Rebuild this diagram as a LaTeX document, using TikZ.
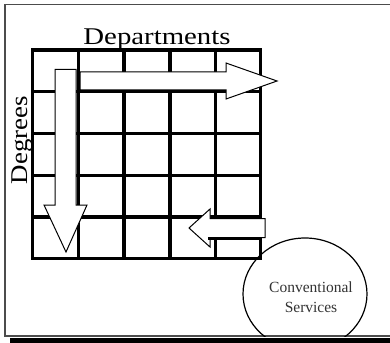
\documentclass[tikz,border=0pt]{standalone}
\usepackage{fontspec}
\setmainfont{Liberation Serif}
\usepackage{graphicx}
\begin{document}
\begin{tikzpicture}[x=1pt,y=-1pt,
  gridline/.style={line width=3.5pt,line cap=rect},
  blockarrow/.style={draw=black,fill=white,line width=1pt,line join=miter},
  framestyle/.style={draw=black!70,line width=1.5pt},
  heading/.style={inner sep=0pt,anchor=base,font=\fontsize{24}{24}\selectfont},
  smalltext/.style={inner sep=0pt,align=center,text=black!80,font=\fontsize{15.5}{20}\selectfont}]
\useasboundingbox (0,0) rectangle (390,342);
\fill[white] (0,0) rectangle (390,342);

% outer frame, open on the right, with a black shadow underneath
\fill[black] (10,337.5) rectangle (392,343);
\draw[framestyle] (400,4.5) -- (5,4.5) -- (5,336) -- (400,336);

% the 5x5 grid
\foreach \x in {32.5,78.3,124,170,215.5,260.5}
  \draw[gridline] (\x,50) -- (\x,258.3);
\foreach \y in {50,91.7,133.3,175.5,216.8,258.3}
  \draw[gridline] (32.5,\y) -- (260.5,\y);

% block arrows over the grid
\draw[blockarrow] (55,69.5) -- (76,69.5) -- (76,205) -- (87,205) -- (66,252)
  -- (44,205) -- (55,205) -- cycle;
\draw[blockarrow] (80,72) -- (226,72) -- (226,63) -- (277,81) -- (226,99)
  -- (226,90) -- (80,90) -- cycle;
\draw[blockarrow] (265,218.5) -- (210,218.5) -- (210,209) -- (189,228)
  -- (210,247) -- (210,237.5) -- (265,237.5) -- cycle;
\draw[line width=2.5pt] (208,238.3) -- (262,238.3);

% axis labels
\node[heading] (dept) at (157,45) {\scalebox{1.2}[1]{Departments}};
\node[heading,rotate=90] (deg) at (27.5,140) {\scalebox{1.12}[1]{Degrees}};

% conventional services bubble, cut off by the frame's bottom edge
\begin{scope}
  \clip (0,0) rectangle (390,336);
  \draw[line width=1.2pt] (305,294) ellipse [x radius=62, y radius=56];
\end{scope}
\node[smalltext] (conv) at (311,297) {Conventional\\Services};
\end{tikzpicture}
\end{document}
